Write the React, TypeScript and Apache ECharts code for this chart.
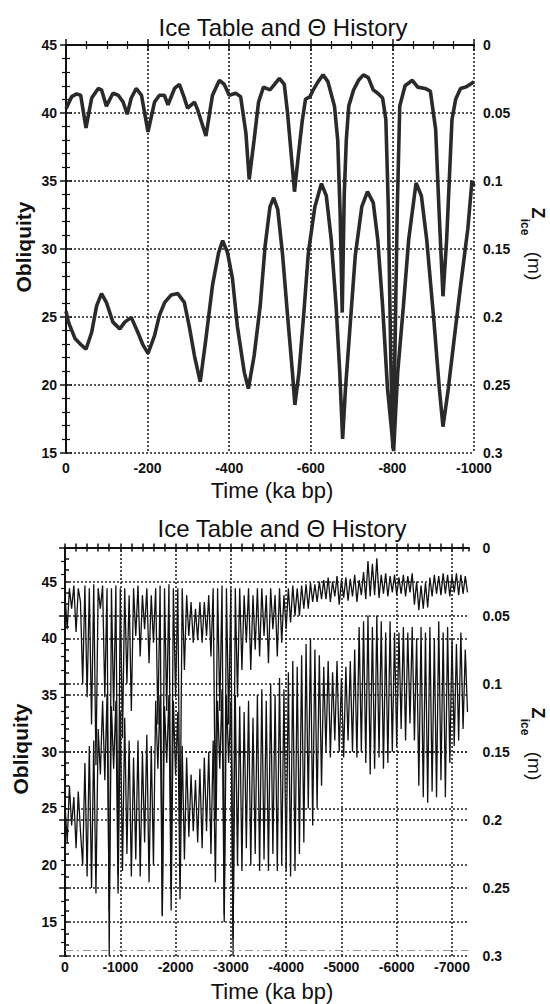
import React, { useEffect, useRef } from 'react';
import * as echarts from 'echarts';

// ---------- Top panel (last 1000 ka) ----------
const TOP_X_TICKS = [0, 200, 400, 600, 800, 1000];
const TOP_LEFT_TICKS = [15, 20, 25, 30, 35, 40, 45];
const RIGHT_TICKS = [0, 0.05, 0.1, 0.15, 0.2, 0.25, 0.3];

// obliquity (deg) vs age (ka bp)
const TOP_OBL_T = [0, 6, 22, 38, 49, 63, 75, 87, 99, 115, 132, 144, 160, 176, 189, 201, 217, 229, 242, 258, 274, 290, 302, 315, 329, 343, 359, 374, 384, 396, 408, 420, 437, 447, 461, 476, 488, 500, 509, 519, 531, 543, 555, 561, 571, 583, 594, 610, 626, 638, 650, 662, 671, 678, 685, 697, 709, 725, 739, 753, 764, 776, 788, 803, 813, 827, 840, 858, 871, 884, 902, 915, 924, 937, 950, 966, 985, 995, 1000];
const TOP_OBL_V = [25.4, 24.6, 23.4, 22.9, 22.6, 23.85, 25.8, 26.7, 26.05, 24.6, 24.1, 24.6, 24.95, 23.85, 22.9, 22.3, 23.6, 25.1, 26.05, 26.6, 26.7, 26.05, 24.3, 22.1, 20.2, 23.4, 27.3, 29.7, 30.6, 29.7, 27.8, 24.3, 20.9, 19.7, 22.1, 25.8, 30.2, 33.1, 33.75, 32.9, 29.5, 25.1, 20.9, 18.5, 20.9, 25.3, 29.7, 33.1, 34.8, 33.9, 30.7, 25.8, 20.9, 16.0, 19.7, 24.6, 29.5, 33.1, 34.2, 33.4, 30.7, 25.8, 19.7, 15.1, 20.9, 25.8, 30.7, 34.85, 33.9, 30.7, 24.6, 19.7, 16.9, 19.7, 23.0, 27.0, 31.5, 35.0, 34.6];

// ice table depth Z_ice (m) vs age (ka bp)
const TOP_ICE_T = [0, 14, 26, 36, 49, 63, 79, 87, 99, 115, 128, 140, 150, 160, 172, 185, 201, 217, 229, 241, 250, 266, 278, 290, 298, 315, 323, 343, 359, 376, 388, 400, 416, 428, 441, 449, 461, 472, 484, 500, 511, 523, 535, 543, 551, 560, 571, 579, 587, 598, 606, 618, 630, 642, 658, 666, 672, 677, 682, 687, 693, 705, 717, 729, 741, 753, 764, 776, 784, 790, 796, 801, 806, 812, 818, 831, 849, 862, 880, 893, 906, 914, 924, 933, 946, 955, 967, 980, 990, 1000];
const TOP_ICE_Z = [0.047, 0.038, 0.036, 0.037, 0.061, 0.039, 0.032, 0.033, 0.045, 0.0355, 0.037, 0.042, 0.051, 0.039, 0.032, 0.037, 0.064, 0.042, 0.037, 0.037, 0.044, 0.032, 0.029, 0.039, 0.0465, 0.042, 0.048, 0.067, 0.037, 0.026, 0.029, 0.037, 0.0355, 0.038, 0.065, 0.099, 0.070, 0.042, 0.031, 0.033, 0.029, 0.0245, 0.029, 0.050, 0.077, 0.108, 0.077, 0.056, 0.040, 0.038, 0.033, 0.027, 0.022, 0.027, 0.045, 0.070, 0.125, 0.197, 0.110, 0.070, 0.045, 0.033, 0.026, 0.022, 0.024, 0.033, 0.0355, 0.039, 0.055, 0.120, 0.230, 0.297, 0.230, 0.120, 0.045, 0.030, 0.026, 0.031, 0.032, 0.034, 0.062, 0.120, 0.185, 0.143, 0.055, 0.040, 0.032, 0.031, 0.029, 0.027];

// ---------- Bottom panel (last 7300 ka) ----------
const BOTTOM_X_TICKS = [0, 1000, 2000, 3000, 4000, 5000, 6000, 7000];
const BOTTOM_LEFT_TICKS = [15, 20, 25, 30, 35, 40, 45];
const BOTTOM_REF_LINE = 12.5;
const BOTTOM_STEP_KA = 40;

const BOTTOM_OBL = [
  25.4, 22.0, 27.0, 23.5, 26.0, 21.5, 26.5, 23.0, 20.0, 29.0, 19.0, 30.5, 18.0, 31.0, 17.5, 32.0,
  28.0, 34.5, 27.5, 35.0, 16.0, 34.0, 28.5, 34.5, 17.5, 33.5,
  19.5, 33.0, 21.0, 31.0, 19.0,
  29.5, 20.5, 31.0, 19.0, 30.0, 22.0, 31.5, 18.5, 30.5, 20.0,
  34.5, 28.5, 35.0, 15.5, 34.0, 29.0, 35.0, 16.0, 34.5, 28.0, 33.5, 17.0,
  30.5, 20.5, 29.5, 22.5, 28.0, 23.0, 27.5, 22.0, 28.5, 21.5, 29.5, 23.0, 30.0, 21.0, 31.0,
  18.5, 34.5, 28.5, 35.5, 15.0, 35.0, 29.0, 34.5, 13.5, 35.0,
  20.0, 34.0, 19.5, 33.5, 21.5, 34.5, 20.0, 33.0, 21.0, 35.0,
  19.5, 35.5, 20.5, 34.5, 19.5, 36.0, 21.0, 35.0, 19.5, 36.5, 20.0, 35.5,
  19.5, 37.0, 19.0, 38.0, 19.5, 37.5, 21.0, 38.5, 22.0, 39.5, 25.0, 40.0, 23.5, 39.0, 25.0, 38.5, 27.0,
  37.5, 30.0, 38.0, 29.5, 37.0, 31.0, 38.0, 30.0, 36.5, 29.5, 37.5, 31.0, 38.0, 30.0, 39.0, 29.5, 41.0,
  30.0, 41.5, 29.0, 42.0, 28.0, 41.0, 28.5, 42.0, 29.5, 41.5, 28.5, 40.5, 29.0, 41.5, 30.0, 40.5, 30.5,
  40.5, 32.0, 41.0, 31.0, 40.5, 32.5, 41.0, 31.0, 40.0,
  27.0, 41.0, 26.0, 40.5, 25.5, 41.0, 26.5, 40.0, 26.0, 41.5, 27.5, 40.5, 26.0, 41.0, 29.0, 40.0, 30.5, 39.5, 31.0, 40.5, 32.0, 39.0, 33.5,
];

const BOTTOM_ICE_Z = [
  0.035, 0.060, 0.030, 0.045, 0.028, 0.062, 0.030, 0.040,
  0.100, 0.028, 0.110, 0.030, 0.130, 0.027, 0.160, 0.030,
  0.045, 0.028, 0.110, 0.030, 0.300, 0.030, 0.120, 0.028, 0.240, 0.030,
  0.140, 0.030, 0.100, 0.035, 0.120,
  0.030, 0.065, 0.028, 0.080, 0.035, 0.060, 0.030, 0.085, 0.035, 0.070,
  0.030, 0.130, 0.028, 0.270, 0.030, 0.120, 0.027, 0.250, 0.030, 0.110, 0.030, 0.220,
  0.030, 0.090, 0.035, 0.065, 0.040, 0.070, 0.045, 0.068, 0.040, 0.070, 0.040, 0.065, 0.035, 0.080, 0.030,
  0.200, 0.030, 0.120, 0.028, 0.270, 0.030, 0.130, 0.030, 0.300, 0.030,
  0.110, 0.030, 0.090, 0.035, 0.070, 0.030, 0.090, 0.035, 0.075, 0.030,
  0.080, 0.030, 0.065, 0.035, 0.085, 0.030, 0.060, 0.035, 0.080, 0.030, 0.070, 0.035,
  0.060, 0.030, 0.055, 0.028, 0.050, 0.030, 0.050, 0.028, 0.045, 0.027, 0.045, 0.026, 0.040, 0.027, 0.040, 0.025, 0.038,
  0.024, 0.038, 0.022, 0.040, 0.025, 0.036, 0.021, 0.042, 0.024, 0.037,
  0.022, 0.039, 0.023, 0.036, 0.020, 0.040, 0.024, 0.035, 0.018, 0.038,
  0.010, 0.036, 0.012, 0.035, 0.008, 0.037, 0.020, 0.034, 0.019, 0.036,
  0.021, 0.033, 0.020, 0.035, 0.022, 0.034, 0.020, 0.036, 0.021, 0.033,
  0.019, 0.042, 0.025, 0.046, 0.028, 0.045, 0.026, 0.044, 0.022, 0.036,
  0.020, 0.034, 0.021, 0.035, 0.019, 0.034, 0.020, 0.036, 0.021, 0.033,
  0.019, 0.035, 0.020, 0.034, 0.021, 0.033,
];

const FONT = 'Liberation Sans';
const INK = '#111';
const DOT = { type: [2, 2], width: 1.6, color: '#222' };

const pairs = (t: number[], v: number[]) => t.map((x, i) => [x, v[i]]);
const stepped = (v: number[]) => v.map((y, i) => [i * BOTTOM_STEP_KA, y]);
const timeFmt = (v: number) => (v === 0 ? '0' : '-' + v);
const zFmt = (v: number) => String(Math.round(v * 100) / 100);

const tickLabel = { color: INK, fontFamily: FONT, fontWeight: 'bold', fontSize: 14 };
const borderLine = { show: true, lineStyle: { color: INK, width: 2 } };
const majorTick = (len: number) => ({ show: true, inside: true, length: len, lineStyle: { color: INK, width: 1.5 } });
const minorTick = (n: number) => ({ show: true, splitNumber: n, length: 4, lineStyle: { color: INK, width: 1.2 } });

export default function App() {
  const ref = useRef<HTMLDivElement>(null);
  useEffect(() => {
    document.body.style.margin = '0';
    const chart = echarts.init(ref.current!, null, { renderer: 'svg' });
    const topXStep = TOP_X_TICKS[1] - TOP_X_TICKS[0];
    const topLStep = TOP_LEFT_TICKS[1] - TOP_LEFT_TICKS[0];
    const zStep = RIGHT_TICKS[1] - RIGHT_TICKS[0];
    const text = (x: number, y: number, t: string, size: number, weight: string, rot = 0) => ({
      type: 'text', x, y, rotation: rot, silent: true,
      style: { text: t, fontSize: size, fontFamily: FONT, fontWeight: weight, fill: INK, align: 'center', verticalAlign: 'middle' },
    });
    const option: any = {
      animation: false,
      textStyle: { fontFamily: FONT },
      grid: [
        { left: 66, top: 45, width: 408, height: 407.5, containLabel: false, outerBoundsMode: 'none' },
        { left: 65, top: 547.5, width: 403.6, height: 408.5, containLabel: false, outerBoundsMode: 'none' },
      ],
      xAxis: [
        {
          gridIndex: 0, type: 'value', position: 'bottom',
          min: TOP_X_TICKS[0], max: TOP_X_TICKS[TOP_X_TICKS.length - 1], interval: topXStep,
          axisLine: borderLine, axisTick: majorTick(6), minorTick: minorTick(4),
          axisLabel: { ...tickLabel, margin: 8, formatter: timeFmt },
          splitLine: { show: true, lineStyle: DOT },
        },
        {
          gridIndex: 0, type: 'value', position: 'top',
          min: TOP_X_TICKS[0], max: TOP_X_TICKS[TOP_X_TICKS.length - 1], interval: topXStep,
          axisLine: borderLine, axisTick: majorTick(6), minorTick: minorTick(4),
          axisLabel: { show: false }, splitLine: { show: false },
        },
        {
          gridIndex: 1, type: 'value', position: 'bottom', min: 0, max: 7300, interval: 200,
          axisLine: borderLine, axisTick: majorTick(4),
          axisLabel: { ...tickLabel, margin: 4, showMaxLabel: false, formatter: (v: number) => (BOTTOM_X_TICKS.includes(v) ? timeFmt(v) : '') },
          splitLine: { show: false },
        },
        {
          gridIndex: 1, type: 'value', position: 'top', min: 0, max: 7300, interval: 200,
          axisLine: borderLine, axisTick: majorTick(4),
          axisLabel: { show: false }, splitLine: { show: false },
        },
      ],
      yAxis: [
        {
          gridIndex: 0, type: 'value', position: 'left',
          min: TOP_LEFT_TICKS[0], max: TOP_LEFT_TICKS[TOP_LEFT_TICKS.length - 1], interval: topLStep,
          axisLine: borderLine, axisTick: majorTick(6), minorTick: minorTick(5),
          axisLabel: { ...tickLabel, margin: 9 },
          splitLine: { show: true, lineStyle: DOT },
        },
        {
          gridIndex: 0, type: 'value', position: 'right', inverse: true,
          min: RIGHT_TICKS[0], max: RIGHT_TICKS[RIGHT_TICKS.length - 1], interval: zStep,
          axisLine: borderLine, axisTick: majorTick(6), minorTick: minorTick(5),
          axisLabel: { ...tickLabel, margin: 9, formatter: zFmt },
          splitLine: { show: false },
        },
        {
          gridIndex: 1, type: 'value', position: 'left', min: 12, max: 48, interval: 1,
          axisLine: borderLine, axisTick: majorTick(4),
          axisLabel: { ...tickLabel, margin: 8, formatter: (v: number) => (BOTTOM_LEFT_TICKS.includes(v) ? String(v) : '') },
          splitLine: { show: false },
        },
        {
          gridIndex: 1, type: 'value', position: 'right', inverse: true,
          min: RIGHT_TICKS[0], max: RIGHT_TICKS[RIGHT_TICKS.length - 1], interval: zStep,
          axisLine: borderLine, axisTick: majorTick(6), minorTick: minorTick(5),
          axisLabel: { ...tickLabel, margin: 14, formatter: zFmt },
          splitLine: { show: true, lineStyle: DOT },
        },
      ],
      series: [
        {
          name: 'Obliquity (1 Myr)', type: 'line', xAxisIndex: 0, yAxisIndex: 0,
          data: pairs(TOP_OBL_T, TOP_OBL_V), showSymbol: false, symbol: 'none',
          lineStyle: { color: '#2a2a2a', width: 3.6 }, z: 3,
        },
        {
          name: 'Z_ice (1 Myr)', type: 'line', xAxisIndex: 0, yAxisIndex: 1,
          data: pairs(TOP_ICE_T, TOP_ICE_Z), showSymbol: false, symbol: 'none',
          lineStyle: { color: '#2a2a2a', width: 3.6 }, z: 3,
        },
        {
          name: 'Obliquity (7 Myr)', type: 'line', xAxisIndex: 2, yAxisIndex: 2,
          data: stepped(BOTTOM_OBL), showSymbol: false, symbol: 'none',
          lineStyle: { color: '#111', width: 1.3 }, z: 3,
          markLine: {
            silent: true, symbol: 'none', label: { show: false }, lineStyle: DOT,
            data: [
              ...BOTTOM_LEFT_TICKS.map((v) => ({ yAxis: v })),
              ...BOTTOM_X_TICKS.slice(1).map((v) => ({ xAxis: v })),
              { yAxis: BOTTOM_REF_LINE, lineStyle: { type: [8, 4, 2, 4], width: 1, color: '#999' } },
            ],
          },
        },
        {
          name: 'Z_ice (7 Myr)', type: 'line', xAxisIndex: 2, yAxisIndex: 3,
          data: stepped(BOTTOM_ICE_Z), showSymbol: false, symbol: 'none',
          lineStyle: { color: '#111', width: 1.3 }, z: 3,
        },
      ],
      graphic: [
        text(283, 27, 'Ice Table and Θ History', 24, 'normal'),
        text(282, 528, 'Ice Table and Θ History', 24, 'normal'),
        text(272, 490, 'Time (ka bp)', 22, 'normal'),
        text(272, 991, 'Time (ka bp)', 22, 'normal'),
        text(23, 247, 'Obliquity', 21, 'bold', Math.PI / 2),
        text(20, 749, 'Obliquity', 21, 'bold', Math.PI / 2),
        text(538, 213, 'Z', 18, 'bold', -Math.PI / 2),
        text(525, 227, 'ice', 12, 'bold', -Math.PI / 2),
        text(534, 266, '(m)', 19, 'normal', -Math.PI / 2),
        text(538, 713, 'Z', 18, 'bold', -Math.PI / 2),
        text(525, 727, 'ice', 12, 'bold', -Math.PI / 2),
        text(534, 766, '(m)', 19, 'normal', -Math.PI / 2),
      ],
    };
    chart.setOption(option);
    return () => chart.dispose();
  }, []);
  return <div ref={ref} style={{ width: 550, height: 1004 }} />;
}
